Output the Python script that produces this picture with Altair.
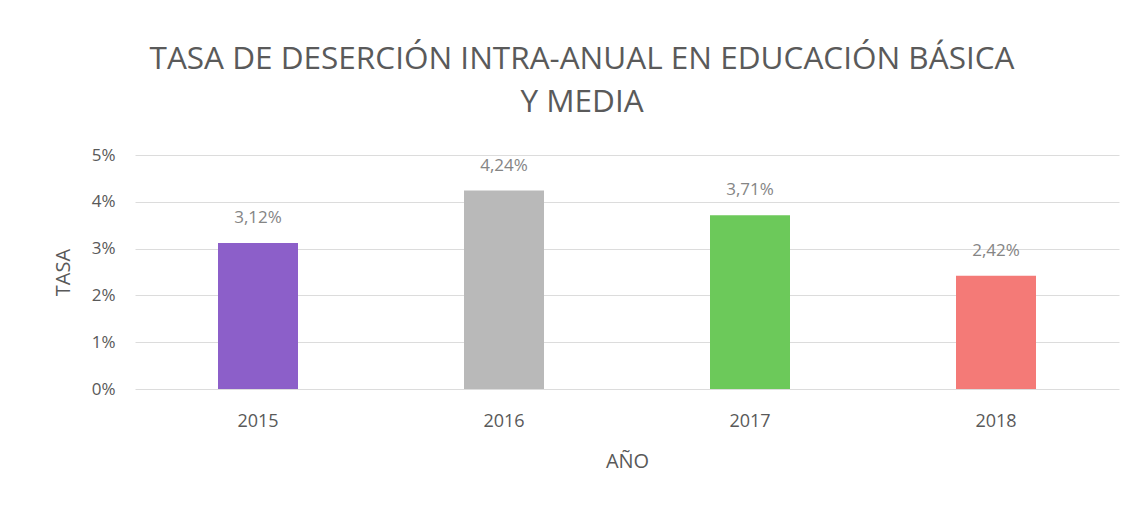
import altair as alt
import pandas as pd

anios = ["2015", "2016", "2017", "2018"]
tasas = [0.0312, 0.0424, 0.0371, 0.0242]
colores = ["#8c5fc9", "#b9b9b9", "#6cc95a", "#f47a77"]

df = pd.DataFrame({"anio": anios, "tasa": tasas})

x_enc = alt.X(
    "anio:N",
    title="AÑO",
    scale=alt.Scale(paddingInner=0, paddingOuter=0),
    axis=alt.Axis(
        labelAngle=0, labelFontSize=18, labelColor="#595959", labelPadding=23,
        titleFontSize=20, titleColor="#595959", titleFontWeight="normal", titlePadding=21,
        domain=False, ticks=False, grid=False, labelFont="Open Sans", titleFont="Open Sans",
    ),
)
y_enc = alt.Y(
    "tasa:Q",
    title="TASA",
    scale=alt.Scale(domain=[0, 0.05]),
    axis=alt.Axis(
        format=".0%", values=[0, 0.01, 0.02, 0.03, 0.04, 0.05],
        labelFontSize=17, labelColor="#595959", labelPadding=20,
        titleFontSize=20, titleColor="#595959", titleFontWeight="normal", titlePadding=18,
        domain=False, ticks=False, gridColor="#dcdcdc", gridWidth=1,
        labelFont="Open Sans", titleFont="Open Sans",
    ),
)

bars = alt.Chart(df).mark_bar(size=80).encode(
    x=x_enc,
    y=y_enc,
    color=alt.Color("anio:N", scale=alt.Scale(domain=anios, range=colores), legend=None),
)

labels = alt.Chart(df).transform_calculate(
    etiqueta="replace(format(datum.tasa, '.2%'), '.', ',')"
).mark_text(dy=-25, fontSize=17, color="#858585", font="Open Sans").encode(
    x=alt.X("anio:N"),
    y=alt.Y("tasa:Q"),
    text="etiqueta:N",
)

chart = alt.layer(bars, labels).properties(
    width=984,
    height=234,
    view=alt.ViewBackground(strokeOpacity=0, strokeWidth=0),
    title=alt.TitleParams(
        text=["TASA DE DESERCIÓN INTRA-ANUAL EN EDUCACIÓN BÁSICA", "Y MEDIA"],
        fontSize=31.5, font="Open Sans", fontWeight="normal", color="#5a5a5a",
        lineHeight=43, offset=28, anchor="middle", dx=-45,
    ),
    padding={"left": 45, "top": 35, "right": 10, "bottom": 10},
).configure_view(strokeOpacity=0, strokeWidth=0).configure(background="white")

chart.save("out.html", embed_options={"renderer": "svg", "actions": False})
